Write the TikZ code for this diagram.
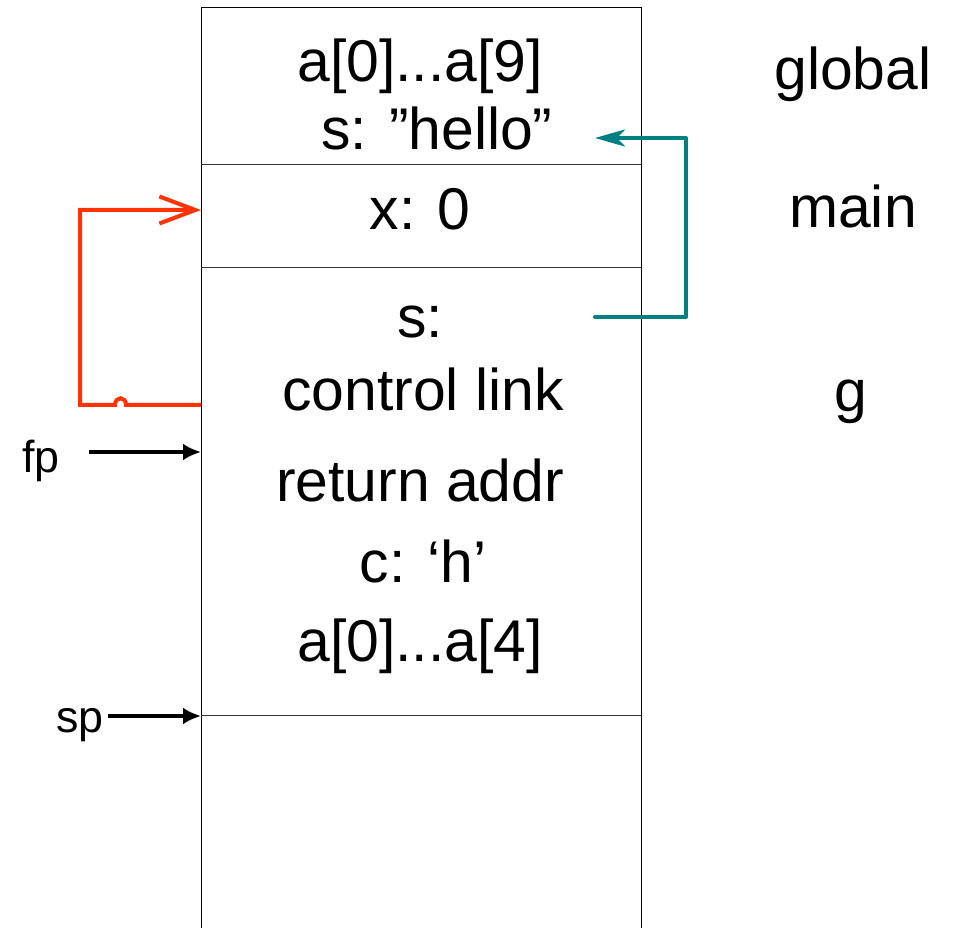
\documentclass[tikz,border=0pt]{standalone}
\usepackage{fontspec}
\setmainfont{Liberation Sans}
\usetikzlibrary{arrows.meta}
\definecolor{linkred}{HTML}{FF3300}
\definecolor{ptrteal}{HTML}{008080}
\begin{document}
\begin{tikzpicture}[x=0.02cm, y=-0.02cm,
  cell/.style={font=\fontsize{33.5}{40}\selectfont, inner sep=0pt, anchor=base},
  tag/.style={font=\fontsize{25.5}{30}\selectfont, inner sep=0pt, anchor=base},
  ctl/.style={draw=linkred, line width=0.08cm},
  ptr/.style={draw=ptrteal, line width=0.08cm, line cap=round, line join=round},
  sarrow/.style={-{Latex[length=0.36cm,width=0.34cm]}, line width=0.07cm}]
  \useasboundingbox (0,0) rectangle (958,928);

  % stack frame
  \draw[line width=0.02cm] (201,928) -- (201,8) -- (641,8) -- (641,928);
  \draw[line width=0.02cm, black!80] (201,165) -- (641,165) (201,268) -- (641,268) (201,716) -- (641,716);

  % cells
  \node[cell] (garr) at (420,82) {a[0]...a[9]};
  \node[cell] (gstr) at (437,150) {s: ”hello”};
  \node[cell] (xval) at (420,230) {x: 0};
  \node[cell] (sval) at (420,338) {s:};
  \node[cell] (clink) at (423,411) {control link};
  \node[cell] (raddr) at (420,502) {return addr};
  \node[cell] (cval) at (423,583) {c: ‘h’};
  \node[cell] (larr) at (420,662) {a[0]...a[4]};

  % frame names
  \node[cell] (global) at (853,90) {global};
  \node[cell] (main) at (853,228) {main};
  \node[cell] (gfun) at (851,412) {g};

  % registers
  \node[tag] (fp) at (41,473) {fp};
  \node[tag] (sp) at (80,733) {sp};

  \coordinate (cl) at (201,405);
  \coordinate (xs) at (201,210);
  \coordinate (sptr) at (595,317);
  \coordinate (hello) at (595,138);
  \coordinate (fptail) at (89,452);
  \coordinate (fphead) at (201,452);
  \coordinate (sptail) at (108,716);
  \coordinate (sphead) at (201,716);

  \draw[ctl, -{Straight Barb[length=0.72cm,width=0.54cm,line width=0.08cm]}] (cl) -- (126,405) .. controls (126,396) and (115,396) .. (115,405) -- (80,405) -- (80,210) -- (xs);
  \draw[ptr, -{Stealth[length=0.6cm,width=0.34cm,inset=0.16cm]}] (sptr) -- (686,317) -- (686,138) -- (hello);
  \draw[sarrow] (fptail) -- (fphead);
  \draw[sarrow] (sptail) -- (sphead);

\end{tikzpicture}
\end{document}
